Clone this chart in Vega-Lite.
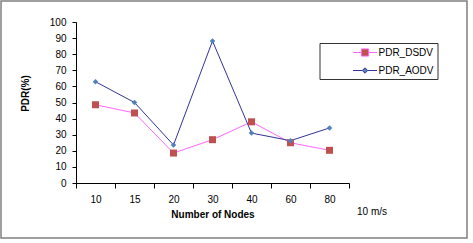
{
  "$schema": "https://vega.github.io/schema/vega-lite/v6.json",
  "width": 466,
  "height": 237,
  "autosize": {"type": "none"},
  "padding": {"left": 1, "top": 1, "right": 6, "bottom": 5},
  "background": "white",
  "config": {
    "view": {"stroke": "#808080", "strokeWidth": 1.5},
    "font": "Liberation Sans"
  },
  "title": {
    "text": "10 m/s",
    "orient": "bottom",
    "anchor": "start",
    "frame": "group",
    "offset": -31,
    "dx": 356,
    "fontSize": 10,
    "fontWeight": "normal",
    "font": "Liberation Sans",
    "color": "#000000"
  },
  "data": {
    "values": [
      {"nodes": "10", "series": "PDR_DSDV", "pdr": 48.6},
      {"nodes": "15", "series": "PDR_DSDV", "pdr": 43.5},
      {"nodes": "20", "series": "PDR_DSDV", "pdr": 18.6},
      {"nodes": "30", "series": "PDR_DSDV", "pdr": 26.9},
      {"nodes": "40", "series": "PDR_DSDV", "pdr": 38.0},
      {"nodes": "60", "series": "PDR_DSDV", "pdr": 25.0},
      {"nodes": "80", "series": "PDR_DSDV", "pdr": 20.3},
      {"nodes": "10", "series": "PDR_AODV", "pdr": 62.9},
      {"nodes": "15", "series": "PDR_AODV", "pdr": 50.0},
      {"nodes": "20", "series": "PDR_AODV", "pdr": 23.6},
      {"nodes": "30", "series": "PDR_AODV", "pdr": 88.2},
      {"nodes": "40", "series": "PDR_AODV", "pdr": 31.0},
      {"nodes": "60", "series": "PDR_AODV", "pdr": 26.3},
      {"nodes": "80", "series": "PDR_AODV", "pdr": 34.2}
    ]
  },
  "encoding": {
    "x": {
      "field": "nodes",
      "type": "ordinal",
      "sort": ["10", "15", "20", "30", "40", "60", "80"],
      "bandPosition": 0.5,
      "scale": {"type": "band", "range": [75, 348], "paddingInner": 0, "paddingOuter": 0},
      "axis": {
        "title": "Number of Nodes",
        "offset": -55,
        "tickBand": "extent",
        "labelAngle": 0,
        "grid": false,
        "domainColor": "#000000",
        "tickColor": "#000000",
        "tickSize": 5,
        "labelPadding": 6,
        "labelFontSize": 10,
        "labelColor": "#000000",
        "titleFontSize": 10,
        "titleFontWeight": "bold",
        "titleColor": "#000000",
        "titlePadding": 5
      }
    },
    "y": {
      "field": "pdr",
      "type": "quantitative",
      "scale": {"domain": [0, 100], "range": [182, 21], "nice": false},
      "axis": {
        "title": "PDR(%)",
        "offset": -75,
        "values": [0, 10, 20, 30, 40, 50, 60, 70, 80, 90, 100],
        "grid": false,
        "domainColor": "#000000",
        "tickColor": "#000000",
        "tickSize": 4,
        "labelPadding": 6,
        "labelFontSize": 10,
        "labelColor": "#000000",
        "titleFontSize": 10,
        "titleFontWeight": "bold",
        "titleColor": "#000000",
        "titleX": -51,
        "titleY": 92,
        "titleBaseline": "middle",
        "titleAlign": "center"
      }
    }
  },
  "layer": [
    {
      "mark": {"type": "line", "strokeWidth": 1},
      "encoding": {
        "stroke": {
          "field": "series",
          "type": "nominal",
          "scale": {"domain": ["PDR_DSDV", "PDR_AODV"], "range": ["#ff66ff", "#333399"]},
          "legend": {
            "orient": "none",
            "legendX": 318.5,
            "legendY": 42,
            "title": null,
            "padding": 3,
            "strokeColor": "#333333",
            "fillColor": "white",
            "symbolSize": 144,
            "symbolOffset": 36,
            "labelOffset": 7,
            "labelFontSize": 10,
            "labelColor": "#000000",
            "labelFont": "Liberation Sans",
            "rowPadding": 5,
            "symbolStrokeWidth": 1,
            "labelExpr": "datum.label + '           '",
            "encode": {
              "symbols": {
                "update": {
                  "shape": {"signal": "datum.value === 'PDR_DSDV' ? 'M-2,0L-0.6,0M0.6,0L2,0M-0.6,-0.6L0.6,-0.6L0.6,0.6L-0.6,0.6Z' : 'M-2,0L-0.45,0M0.45,0L2,0M0,-0.45L0.45,0L0,0.45L-0.45,0Z'"},
                  "fill": {"signal": "datum.value === 'PDR_DSDV' ? '#c0504d' : '#4f81bd'"},
                  "strokeWidth": {"value": 1},
                  "strokeOpacity": {"value": 1},
                  "fillOpacity": {"value": 1},
                  "opacity": {"value": 1}
                }
              }
            }
          }
        }
      }
    },
    {
      "transform": [{"filter": "datum.series === 'PDR_DSDV'"}],
      "mark": {"type": "point", "shape": "square", "filled": true, "fill": "#c0504d", "size": 49, "opacity": 1, "strokeWidth": 0},
      "encoding": {}
    },
    {
      "transform": [{"filter": "datum.series === 'PDR_AODV'"}],
      "mark": {"type": "point", "shape": "diamond", "filled": true, "fill": "#4f81bd", "size": 30, "opacity": 1, "strokeWidth": 0},
      "encoding": {}
    }
  ]
}
